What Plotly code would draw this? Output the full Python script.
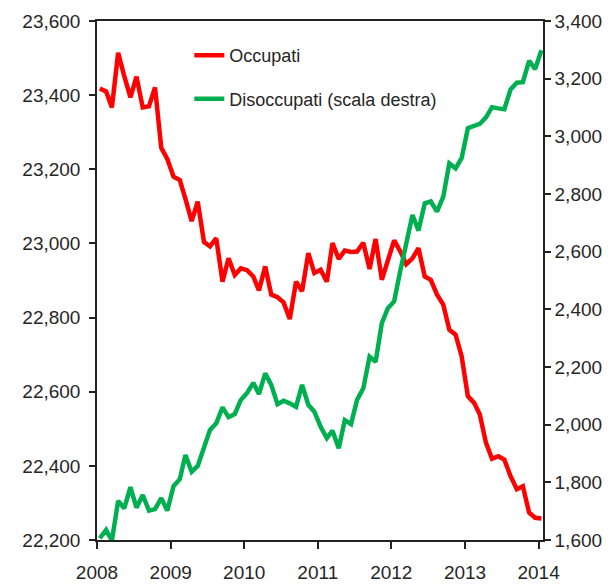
import plotly.graph_objects as go

# Monthly data, Jan 2008 - Jan 2014 (thousands)
n_months = 73
months = [f"{2008 + i // 12}-{i % 12 + 1:02d}-15" for i in range(n_months)]

occupati = [
    23418, 23410, 23367, 23514, 23452, 23394, 23450, 23367, 23370, 23421, 23258, 23228,
    23180, 23171, 23120, 23060, 23113, 23004, 22992, 23014, 22897, 22960, 22915, 22933,
    22928, 22911, 22873, 22938, 22862, 22855, 22841, 22796, 22897, 22871, 22974, 22920,
    22929, 22897, 23001, 22958, 22981, 22977, 22978, 23002, 22931, 23012, 22902, 22956,
    23008, 22978, 22944, 22960, 22987, 22911, 22902, 22862, 22835, 22767, 22754, 22696,
    22588, 22570, 22539, 22462, 22419, 22426, 22417, 22372, 22337, 22345, 22274, 22260,
    22258,
]

disoccupati = [
    1606, 1635, 1598, 1736, 1710, 1783, 1712, 1756, 1702, 1707, 1745, 1702,
    1787, 1811, 1895, 1837, 1857, 1918, 1982, 2005, 2060, 2026, 2037, 2086,
    2110, 2145, 2106, 2178, 2138, 2071, 2083, 2074, 2062, 2138, 2069, 2045,
    1993, 1953, 1979, 1918, 2016, 2002, 2086, 2126, 2236, 2218, 2352, 2404,
    2427, 2535, 2629, 2727, 2673, 2768, 2774, 2739, 2791, 2906, 2889, 2924,
    3028, 3036, 3043, 3066, 3101, 3097, 3094, 3163, 3186, 3188, 3262, 3233,
    3299,
]

name_occ = "Occupati"
name_dis = "Disoccupati (scala destra)"

FONT = "Liberation Sans, Arial, sans-serif"
TXT = "#262626"

fig = go.Figure()
fig.add_trace(go.Scatter(
    x=months, y=occupati, name=name_occ, mode="lines",
    line=dict(color="#FF0000", width=4.5), legendgroup="a", yaxis="y",
))
fig.add_trace(go.Scatter(
    x=months, y=disoccupati, name=name_dis, mode="lines",
    line=dict(color="#00B050", width=4.5), legendgroup="b", yaxis="y2",
))

fig.update_layout(
    width=610, height=584,
    margin=dict(l=89, r=75, t=13, b=52),
    paper_bgcolor="white", plot_bgcolor="white",
    font=dict(family=FONT, size=19, color=TXT),
    showlegend=True,
    legend=dict(
        x=0.207, y=0.969, xanchor="left", yanchor="top",
        bgcolor="rgba(0,0,0,0)", borderwidth=0,
        font=dict(family=FONT, size=18, color=TXT),
        traceorder="grouped", tracegroupgap=17,
    ),
    xaxis=dict(
        type="date", automargin=False,
        range=["2008-01-01", "2014-01-23"],
        tick0="2008-01-01", dtick="M12", tickformat="%Y",
        ticks="outside", ticklen=7, tickwidth=1.5, tickcolor="#222",
        ticklabelstandoff=7,
        showline=True, linecolor="#222", linewidth=1.5, mirror=True,
        showgrid=False, zeroline=False,
        tickfont=dict(family=FONT, size=19, color=TXT),
    ),
    yaxis=dict(
        automargin=False,
        range=[22200, 23600], dtick=200, tickformat=",d",
        ticks="outside", ticklen=6, tickwidth=1.5, tickcolor="#222",
        ticklabelstandoff=5,
        showline=True, linecolor="#222", linewidth=1.5,
        showgrid=False, zeroline=False,
        tickfont=dict(family=FONT, size=19, color=TXT),
    ),
    yaxis2=dict(
        automargin=False,
        range=[1600, 3400], dtick=200, tickformat=",d",
        overlaying="y", side="right",
        ticks="outside", ticklen=6, tickwidth=1.5, tickcolor="#222",
        showline=True, linecolor="#222", linewidth=1.5,
        showgrid=False, zeroline=False,
        tickfont=dict(family=FONT, size=19, color=TXT),
    ),
)

fig.write_html("out.html")
